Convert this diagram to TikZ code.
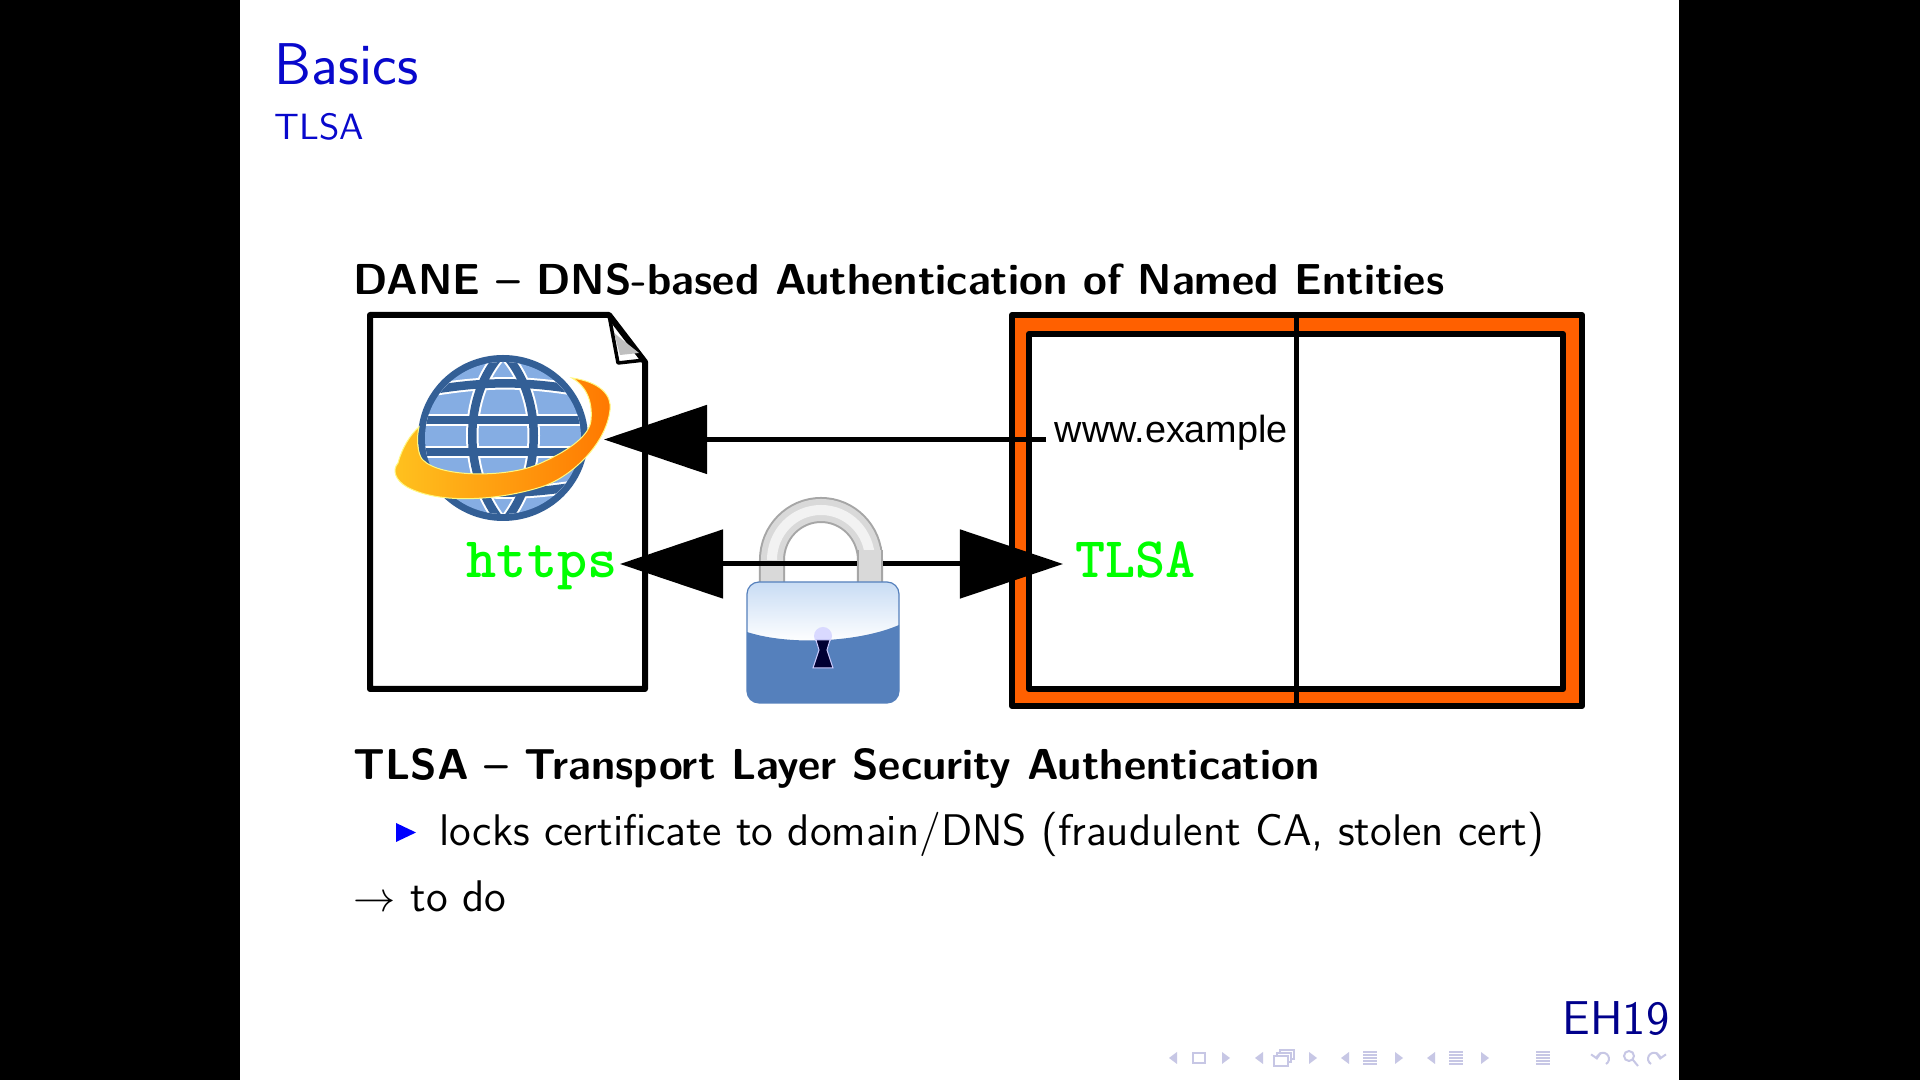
\documentclass[tikz,border=0pt]{standalone}
\usepackage{fontspec}
\newfontfamily\arialfont{Liberation Sans}
\usetikzlibrary{arrows.meta}
\definecolor{slideblue}{rgb}{0.03,0.03,0.8}
\definecolor{darkblue}{rgb}{0,0,0.55}
\definecolor{boxorange}{HTML}{FF6000}
\definecolor{navcol}{rgb}{0.78,0.78,0.9}
\definecolor{globedark}{HTML}{335F96}
\definecolor{globelight}{HTML}{85ADE3}
\definecolor{lockblue}{HTML}{6A9CDF}
\definecolor{lockedge}{HTML}{5580BC}
\definecolor{lockpale}{HTML}{C8DCF4}
\definecolor{ringleft}{HTML}{FFC21F}
\definecolor{ringright}{HTML}{FF7800}
\tikzstyle{line} = [draw, line width=.05cm, >={Triangle[length=1.03cm,width=.68cm]}]
\tikzstyle{frame} = [draw, line width=.06cm, line join=round]
\tikzstyle{slidetext} = [anchor=base west, inner sep=0pt, font=\sffamily\fontsize{12.6}{14}\selectfont]
\tikzstyle{boldtext} = [slidetext, font=\sffamily\bfseries\fontsize{12.32}{14}\selectfont]
\tikzstyle{proto} = [anchor=west, inner ysep=0pt, text=green, text height=.29cm, text depth=.02cm, font=\ttfamily\bfseries\fontsize{16.3}{16}\selectfont]
\tikzstyle{navsym} = [navcol, line width=.015cm]
\tikzstyle{navcurve} = [navsym, line width=.02cm, -{Straight Barb[length=.05cm]}]
\begin{document}
\begin{tikzpicture}[x=.01cm, y=-.01cm]
	\useasboundingbox (0,0) rectangle (1920,1080);
	\fill [black] (0,0) rectangle (1920,1080);
	\fill [white] (240,0) rectangle (1679,1080);
	
	% headings
	\node [slidetext, text=slideblue, font=\sffamily\fontsize{16.75}{18}\selectfont] (title) at (274,85) {Basics};
	\node [slidetext, text=slideblue, font=\sffamily\fontsize{10.4}{12}\selectfont] (subtitle) at (274,140) {TLSA};
	\node [boldtext] (dane) at (353,295) {DANE -- DNS-based Authentication of Named Entities};
	
	% document with globe
	\draw [frame, fill=white] (370,315) -- (609,315) -- (645,362) -- (645,689) -- (370,689) -- cycle;
	\fill [black!25] (614,333) -- (620,355) -- (639,353) -- cycle;
	\draw [line width=.035cm, line join=round] (609,315) -- (618,363) -- (645,360);
	
	\fill [globedark] (503,438) ellipse [x radius=85, y radius=83];
	\begin{scope}
		\clip (503,438) ellipse [x radius=78, y radius=76];
		\fill [globelight] (420,355) rectangle (590,520);
		\foreach \w/\c in {.125cm/white, .085cm/globedark} {
			\draw [line width=\w, \c] (420,392) to[bend left=10] (590,392);
			\draw [line width=\w, \c] (420,420) -- (590,420);
			\draw [line width=\w, \c] (420,452) -- (590,452);
			\draw [line width=\w, \c] (420,484) to[bend right=10] (590,484);
			\draw [line width=\w, \c] (503,352) .. controls (462,395) and (462,475) .. (503,524);
			\draw [line width=\w, \c] (503,352) .. controls (544,395) and (544,475) .. (503,524);
		}
	\end{scope}
	\shade [left color=ringleft, right color=ringright, draw=yellow!50, line width=.01cm] (572,378) .. controls (600,382) and (612,395) .. (610,410)
		.. controls (606,445) and (570,478) .. (541,487) .. controls (500,500) and (440,505) .. (407,487)
		.. controls (395,480) and (392,470) .. (398,463) .. controls (402,448) and (410,435) .. (419,427)
		.. controls (415,445) and (420,458) .. (423,460) .. controls (440,478) and (510,478) .. (541,463)
		.. controls (570,450) and (590,435) .. (591,420) .. controls (593,400) and (585,385) .. (572,378) -- cycle;
	\node [proto, anchor=east, inner xsep=.02cm] (https) at (620,564) {https};
	
	% zone file
	\draw [frame, fill=boxorange] (1012,315) rectangle (1582,706);
	\draw [frame, fill=white] (1029,334) rectangle (1563,689);
	\draw [frame, line width=.05cm] (1296,315) -- (1296,706);
	\node [anchor=west, inner xsep=.08cm, inner ysep=0pt, text height=.285cm, text depth=.215cm, font=\arialfont\fontsize{10.75}{12}\selectfont] (www) at (1046,439.5) {www.example};
	\node [proto, inner xsep=.12cm] (tlsa) at (1063,564) {TLSA};
	
	% padlock, shackle behind the arrow on the left
	\draw [line width=.26cm, gray!70] (772,590) -- (772,560) arc [start angle=180, end angle=360, x radius=49, y radius=50] -- (870,590);
	\draw [line width=.22cm, gray!30] (772,590) -- (772,560) arc [start angle=180, end angle=360, x radius=49, y radius=50] -- (870,590);
	\draw [line width=.1cm, white!90!gray] (772,560) arc [start angle=180, end angle=360, x radius=49, y radius=50];
	
	\coordinate (globetip) at (604,439.5);
	\path [line, ->] (www.west) -- (globetip);
	\path [line, <->] (https.east) -- (tlsa.west);
	
	\draw [line width=.26cm, gray!70] (870,590) -- (870,550);
	\draw [line width=.22cm, gray!30] (870,590) -- (870,550);
	\begin{scope}
		\clip [rounded corners=.12cm] (747,582) rectangle (899,703);
		\shade [top color=lockpale, bottom color=white] (747,582) rectangle (899,642);
		\shade [left color=lockedge, middle color=lockblue, right color=lockedge] (747,632) .. controls (790,646) and (860,642) .. (899,625) -- (899,703) -- (747,703) -- cycle;
	\end{scope}
	\draw [lockedge, line width=.012cm, rounded corners=.12cm] (747,582) rectangle (899,703);
	\fill [white!85!blue] (823,636) circle [radius=9];
	\draw [fill=blue!20!black, draw=blue!20, line width=.01cm] (816,640) -- (830,640) -- (827,650) -- (833,668) -- (813,668) -- (819,650) -- cycle;
	
	% text below
	\node [boldtext] (tlsahead) at (353,780) {TLSA -- Transport Layer Security Authentication};
	\fill [blue] (396,823) -- (416,832.5) -- (396,842) -- cycle;
	\node [slidetext] (item) at (439,846) {locks certificate to domain/DNS (fraudulent CA, stolen cert)};
	\node [slidetext] (todo) at (353,912) {$\rightarrow$ to do};
	\node [anchor=base east, inner sep=0pt, text=darkblue, font=\sffamily\fontsize{13.5}{14}\selectfont] (eh) at (1670,1035) {EH19};
	
	% navigation symbols
	\foreach \x in {1177,1263,1349,1435} {
		\fill [navsym] (\x,1052) -- (\x,1064) -- (\x-8,1058) -- cycle;
	}
	\foreach \x in {1222,1309,1395,1481} {
		\fill [navsym] (\x,1052) -- (\x,1064) -- (\x+8,1058) -- cycle;
	}
	\draw [navsym] (1193,1053) rectangle (1205,1063);
	\draw [navsym, fill=white] (1280,1050) rectangle (1294,1059);
	\draw [navsym, fill=white] (1277,1053) rectangle (1291,1062);
	\draw [navsym, fill=white] (1274,1056) rectangle (1288,1066);
	\foreach \x in {1370,1456,1543} {
		\foreach \y in {1052,1055,1058,1061,1064} {
			\draw [navsym, line width=.02cm] (\x-7,\y) -- (\x+7,\y);
		}
	}
	\draw [navcurve] (1606,1064) arc [start angle=60, end angle=-190, radius=6];
	\draw [navsym, line width=.02cm] (1629,1056) circle [radius=5] (1633,1060) -- (1638,1066);
	\draw [navcurve] (1651,1064) arc [start angle=120, end angle=370, radius=6];
\end{tikzpicture}
\end{document}
